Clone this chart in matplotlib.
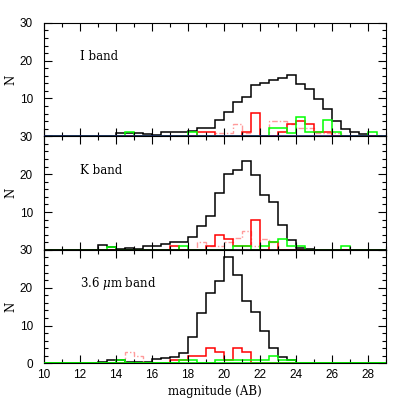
import numpy as np
import matplotlib.pyplot as plt
from matplotlib.ticker import MultipleLocator

# bin edges: 0.5 mag bins from 10 to 29
edges = np.arange(10.0, 29.01, 0.5)

# I band
i_black = [0, 0, 0, 0, 0, 0, 0.2, 0.2, 1.0, 1.0, 0.8, 0.6, 0.35, 1.1, 1.1, 1.2, 1.3, 2.3, 2.3,
           4.2, 6.3, 9.0, 10.3, 13.6, 14.2, 14.9, 15.4, 16.2, 13.8, 12.5, 9.9, 7.1, 4.1, 2.0,
           1.2, 0.6, 0, 0]
i_red = [0, 0, 0, 0, 0, 0, 0, 0, 0, 0, 0, 0, 0, 0, 0, 0, 0, 1.1, 1.1,
         0, 0, 0, 1.1, 6.1, 0, 0, 1.05, 3.2, 4.1, 3.2, 1.05, 1.05, 0, 0,
         0, 0, 0, 0]
i_green = [0, 0, 0, 0, 0, 0, 0, 0, 0, 1.1, 0, 0, 0, 0, 0, 0, 1.1, 0, 0,
           0, 0, 0, 0, 0, 0, 2.1, 2.1, 1.0, 5.2, 1.1, 1.1, 4.2, 1.1, 0,
           0, 0, 1.1, 0]
i_pink = [0, 0, 0, 0, 0, 0, 0, 0, 0, 0, 0, 0, 0, 0, 0, 0, 0, 0, 0,
          1.0, 1.0, 3.2, 1.0, 0, 0, 4.1, 4.1, 3.2, 2.1, 2.1, 1.0, 1.0, 1.0, 0,
          0, 0, 0, 0]

# K band
k_black = [0, 0, 0, 0, 0, 0, 1.3, 0.8, 0.35, 0.6, 0.35, 0.9, 1.0, 1.5, 2.2, 2.1, 3.5, 6.2, 9.0,
           15.0, 20.1, 21.2, 23.4, 19.9, 14.6, 12.7, 6.6, 2.7, 0.6, 0.3, 0, 0, 0, 0,
           0, 0, 0, 0]
k_red = [0, 0, 0, 0, 0, 0, 0, 0, 0, 0, 0, 0, 0, 0, 1.0, 0, 0, 0, 1.0,
         4.0, 3.0, 1.0, 1.0, 8.0, 0, 2.0, 0, 0, 0, 0, 0, 0, 0, 0,
         0, 0, 0, 0]
k_green = [0, 0, 0, 0, 0, 0, 0, 0.8, 0, 0, 0, 0, 0, 0, 0, 1.0, 0, 0, 0,
           0, 0, 1.0, 1.0, 0, 1.0, 2.0, 3.0, 1.0, 1.0, 0, 0, 0, 0, 1.0,
           0, 0, 0, 0]
k_pink = [0, 0, 0, 0, 0, 0, 0, 0, 0, 0, 0, 0, 0, 0, 0, 0, 0, 2.0, 1.0,
          1.0, 2.0, 3.2, 5.1, 1.0, 3.0, 2.0, 0, 0, 0, 0, 0, 0, 0, 0,
          0, 0, 0, 0]

# 3.6 micron band
m_black = [0, 0, 0, 0, 0, 0, 0.45, 0.8, 0.8, 0.45, 0.45, 0.45, 1.1, 1.4, 1.8, 2.8, 6.9, 13.2, 18.5,
           21.8, 28.0, 23.3, 16.5, 13.5, 8.7, 4.0, 1.6, 0.8, 0, 0, 0, 0, 0, 0,
           0, 0, 0, 0]
m_red = [0, 0, 0, 0, 0, 0, 0, 0, 0, 0, 0, 0, 0, 0, 1.0, 1.0, 1.9, 1.9, 4.0,
         2.9, 1.0, 4.0, 2.9, 0, 0, 0, 0, 0, 0, 0, 0, 0, 0, 0,
         0, 0, 0, 0]
m_green = [0, 0, 0, 0, 0, 0, 0, 0, 1.0, 0, 0, 0, 0, 0, 0, 1.0, 1.0, 0, 0,
           1.0, 1.0, 1.0, 1.0, 1.0, 1.0, 2.0, 1.0, 1.0, 0, 0, 0, 0, 0, 0,
           0, 0, 0, 0]
m_pink = [0, 0, 0, 0, 0, 0, 0, 0, 0, 2.9, 1.9, 0, 0, 0, 0, 0, 0, 0, 0,
          0, 0, 0, 0, 0, 0, 0, 0, 0, 0, 0, 0, 0, 0, 0,
          0, 0, 0, 0]

labels = ["I band", "K band", r"3.6 $\mu$m band"]
panels = [(i_black, i_pink, i_red, i_green),
          (k_black, k_pink, k_red, k_green),
          (m_black, m_pink, m_red, m_green)]
base_colors = ["#1c1c6e", "black", "#00e000"]

plt.rcParams['font.family'] = ['DejaVu Serif']
plt.rcParams['mathtext.fontset'] = 'dejavuserif'

fig, axes = plt.subplots(3, 1, figsize=(4.07, 4.07), dpi=100, sharex=True)
fig.subplots_adjust(left=0.108, right=0.948, bottom=0.107, top=0.944, hspace=0)

for k, ax in enumerate(axes):
    black, pink, red, green = panels[k]
    ax.stairs(black, edges, color="black", lw=1.1)
    ax.stairs(pink, edges, color="#ff9a9a", lw=1.0, linestyle=(0, (4, 1.5, 1, 1.5)))
    ax.stairs(red, edges, color="#ff0000", lw=1.1)
    ax.stairs(green, edges, color="#00ff00", lw=1.1)
    ax.axhline(0, color=base_colors[k], lw=1.2, zorder=5)

    ax.set_xlim(10, 29)
    ax.set_ylim(0, 30)
    ax.xaxis.set_major_locator(MultipleLocator(2))
    ax.xaxis.set_minor_locator(MultipleLocator(1))
    ax.yaxis.set_major_locator(MultipleLocator(10))
    ax.yaxis.set_minor_locator(MultipleLocator(2))
    ax.tick_params(which="both", direction="in", top=True, right=True, width=0.8)
    ax.tick_params(which="major", length=5.8)
    ax.tick_params(which="minor", length=3.0)
    ax.tick_params(axis="y", pad=8)
    ax.tick_params(axis="x", pad=4)
    for sp in ax.spines.values():
        sp.set_linewidth(0.8)
    for lab in ax.get_xticklabels() + ax.get_yticklabels():
        lab.set_fontfamily("Liberation Sans")
        lab.set_fontsize(8.5)
    if k < 2:
        ax.set_yticks([0, 10, 20, 30])
        ax.set_yticklabels(["", "10", "20", "30"], fontfamily="Liberation Sans", fontsize=8.5)
    ax.set_ylabel("N", fontsize=8.5)
    ax.yaxis.set_label_coords(-0.078, 0.5)
    ax.text(12.0, 21, labels[k], fontsize=8.5, va="center", ha="left")

axes[-1].set_xlabel("magnitude (AB)", fontsize=8.5, labelpad=3)

fig.savefig("out.png", dpi=100)
